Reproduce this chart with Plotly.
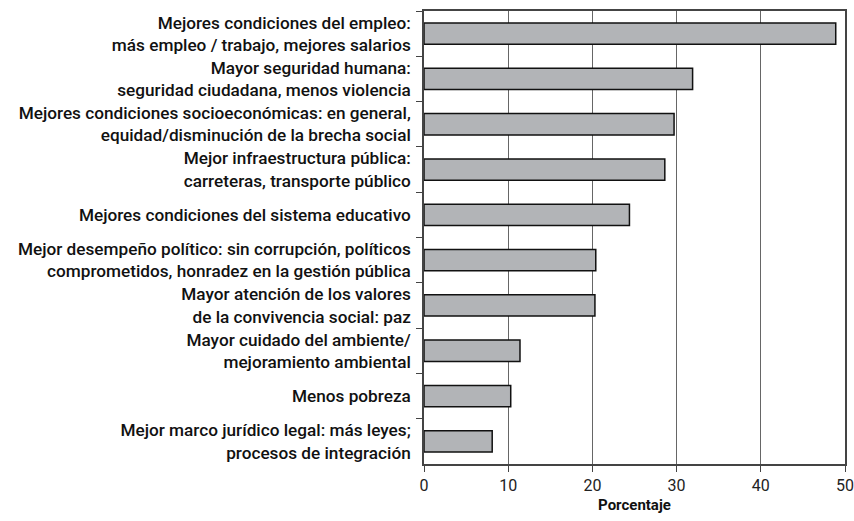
import plotly.graph_objects as go

categorias = [
    "Mejores condiciones del empleo:<br>más empleo / trabajo, mejores salarios",
    "Mayor seguridad humana:<br>seguridad ciudadana, menos violencia",
    "Mejores condiciones socioeconómicas: en general,<br>equidad/disminución de la brecha social",
    "Mejor infraestructura pública:<br>carreteras, transporte público",
    "Mejores condiciones del sistema educativo",
    "Mejor desempeño político: sin corrupción, políticos<br>comprometidos, honradez en la gestión pública",
    "Mayor atención de los valores<br>de la convivencia social: paz",
    "Mayor cuidado del ambiente/<br>mejoramiento ambiental",
    "Menos pobreza",
    "Mejor marco jurídico legal: más leyes;<br>procesos de integración",
]
porcentajes = [48.9, 31.9, 29.7, 28.6, 24.4, 20.4, 20.3, 11.4, 10.3, 8.1]
ticks_x = [0, 10, 20, 30, 40, 50]

fig = go.Figure(go.Bar(
    x=porcentajes,
    y=categorias,
    orientation="h",
    marker=dict(color="#b2b4b7", line=dict(color="#111111", width=1.5)),
    width=0.47,
))

fig.update_layout(
    width=854,
    height=521,
    margin=dict(l=424, r=9, t=11, b=57),
    plot_bgcolor="white",
    paper_bgcolor="white",
    font=dict(family="Roboto", color="#111111", size=17),
    showlegend=False,
)

fig.update_xaxes(
    range=[0, 50],
    tickvals=ticks_x,
    ticks="outside",
    ticklen=6,
    tickcolor="#444",
    tickfont=dict(size=16, color="#222"),
    ticklabeloverflow="allow",
    showgrid=True,
    gridcolor="#666",
    gridwidth=1,
    showline=True,
    linecolor="#444",
    linewidth=1.5,
    mirror=True,
    zeroline=False,
    automargin=False,
    title=dict(text="<b>Porcentaje</b>", font=dict(size=15), standoff=6),
)

fig.update_yaxes(
    autorange="reversed",
    ticks="outside",
    tickson="boundaries",
    ticklen=6,
    ticklabelstandoff=8,
    tickcolor="#444",
    showline=True,
    linecolor="#444",
    linewidth=1.5,
    mirror=True,
    showgrid=False,
    automargin=False,
    tickfont=dict(size=17.2, weight=500),
)

# sin margen en body para que la figura ocupe toda la ventana
fig.write_html(
    "out.html",
    config={"displayModeBar": False},
    post_script="document.body.style.margin='0';document.body.style.overflow='hidden';",
)
